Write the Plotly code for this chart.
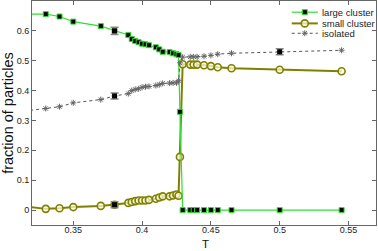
import plotly.graph_objects as go

# ---- data ----
T = [0.31, 0.33, 0.34, 0.35, 0.37, 0.38, 0.39, 0.3925, 0.395, 0.3975, 0.40, 0.4025,
     0.405, 0.41, 0.4125, 0.415, 0.42, 0.4225, 0.425, 0.4265, 0.4275, 0.4295,
     0.435, 0.4375, 0.44, 0.445, 0.45, 0.455, 0.465, 0.50, 0.545]
large_cluster = [0.656, 0.656, 0.648, 0.631, 0.616, 0.600, 0.586, 0.573, 0.566, 0.562, 0.557, 0.555,
                 0.552, 0.545, 0.538, 0.530, 0.529, 0.525, 0.522, 0.519, 0.329, 0.0,
                 0.0, 0.0, 0.0, 0.0, 0.0, 0.0, 0.0, 0.0, 0.0]
small_cluster = [0.015, 0.004, 0.006, 0.010, 0.014, 0.018, 0.024, 0.027, 0.030, 0.032, 0.032, 0.032,
                 0.034, 0.038, 0.042, 0.046, 0.046, 0.049, 0.052, 0.048, 0.178, 0.488,
                 0.487, 0.487, 0.487, 0.485, 0.482, 0.478, 0.475, 0.470, 0.465]
isolated = [0.329, 0.340, 0.346, 0.359, 0.370, 0.382, 0.390, 0.400, 0.404, 0.406, 0.411, 0.413,
            0.414, 0.417, 0.420, 0.424, 0.425, 0.426, 0.426, 0.433, 0.493, 0.512,
            0.513, 0.513, 0.513, 0.515, 0.518, 0.522, 0.525, 0.530, 0.535]

err_T = [0.38, 0.38, 0.38, 0.50]
err_val = [0.600, 0.382, 0.018, 0.530]
err_size = [0.012, 0.010, 0.010, 0.010]

x_ticks = [0.35, 0.4, 0.45, 0.5, 0.55]
x_ticklabels = ["0.35", "0.4", "0.45", "0.5", "0.55"]
y_ticks = [0, 0.1, 0.2, 0.3, 0.4, 0.5, 0.6]
y_ticklabels = ["0", "0.1", "0.2", "0.3", "0.4", "0.5", "0.6"]

legend_names = ["large cluster", "small cluster", "isolated"]
x_title = "T"
y_title = "fraction of particles"

GREEN = "#33dd33"
OLIVE = "#808000"
GRAY = "#555555"
FONT = "Liberation Sans, Arial, sans-serif"

fig = go.Figure()

large_marker = dict(symbol="square", size=5, color="black", line=dict(color=GREEN, width=1))
small_marker = dict(symbol="circle", size=7, color="rgba(255,255,230,0.7)", line=dict(color=OLIVE, width=1.6))
iso_marker = dict(symbol="asterisk-open", size=5, color="#666666", line=dict(color="#666666", width=1))

fig.add_trace(go.Scatter(x=T, y=small_cluster, mode="lines+markers",
                         line=dict(color=OLIVE, width=2), marker=small_marker, showlegend=False))
fig.add_trace(go.Scatter(x=T, y=large_cluster, mode="lines+markers",
                         line=dict(color=GREEN, width=1.2), marker=large_marker, showlegend=False))
fig.add_trace(go.Scatter(x=T, y=isolated, mode="lines+markers",
                         line=dict(color=GRAY, width=1, dash="dot"), marker=iso_marker, showlegend=False))
fig.add_trace(go.Scatter(x=err_T, y=err_val, mode="markers",
                         marker=dict(symbol="square", size=5, color="black"),
                         error_y=dict(type="data", array=err_size, color="#888888", thickness=1.5, width=4),
                         showlegend=False))

# manual legend drawn on an overlay axis (0..1)
leg_y = [0.95, 0.90, 0.856]
leg_styles = [
    (dict(color=GREEN, width=1.2), large_marker),
    (dict(color=OLIVE, width=2), small_marker),
    (dict(color=GRAY, width=1, dash="dot"), iso_marker),
]
for name, yy, (ln, mk) in zip(legend_names, leg_y, leg_styles):
    fig.add_trace(go.Scatter(x=[0.755, 0.831], y=[yy, yy], mode="lines", line=ln,
                             xaxis="x2", yaxis="y2", showlegend=False, hoverinfo="skip"))
    fig.add_trace(go.Scatter(x=[0.793], y=[yy], mode="markers", marker=mk,
                             xaxis="x2", yaxis="y2", showlegend=False, hoverinfo="skip"))
    fig.add_annotation(x=0.838, y=yy, xref="x2", yref="y2", text=name, showarrow=False,
                       xanchor="left", yanchor="middle", font=dict(family=FONT, size=9.5, color="#222"))

# x-axis title as annotation (placed below the tick labels)
fig.add_annotation(x=0.503, y=-0.114, xref="paper", yref="paper", text=x_title, showarrow=False,
                   xanchor="center", yanchor="bottom", borderpad=0,
                   font=dict(family=FONT, size=11.5, color="#111"))

axis_common = dict(showgrid=False, zeroline=False, showline=True, linecolor="#666666", linewidth=1,
                   mirror="ticks", ticks="inside", ticklen=4, tickcolor="#666666", automargin=False,
                   tickfont=dict(family=FONT, size=9, color="#222"))

fig.update_layout(
    width=378, height=251,
    margin=dict(l=32, r=2, t=1, b=26),
    paper_bgcolor="white", plot_bgcolor="white",
    xaxis=dict(range=[0.32, 0.57], tickvals=x_ticks, ticktext=x_ticklabels, ticklabelstandoff=-4,
               **axis_common),
    yaxis=dict(range=[-0.05, 0.70], tickvals=y_ticks, ticktext=y_ticklabels,
               title=dict(text=y_title, font=dict(family=FONT, size=14.5, color="#111"), standoff=4),
               **axis_common),
    xaxis2=dict(range=[0, 1], overlaying="x", visible=False, fixedrange=True),
    yaxis2=dict(range=[0, 1], overlaying="y", visible=False, fixedrange=True),
)

fig.write_html("out.html", config={"displayModeBar": False},
               post_script="document.body.style.margin='0px';document.body.style.overflow='hidden';")
